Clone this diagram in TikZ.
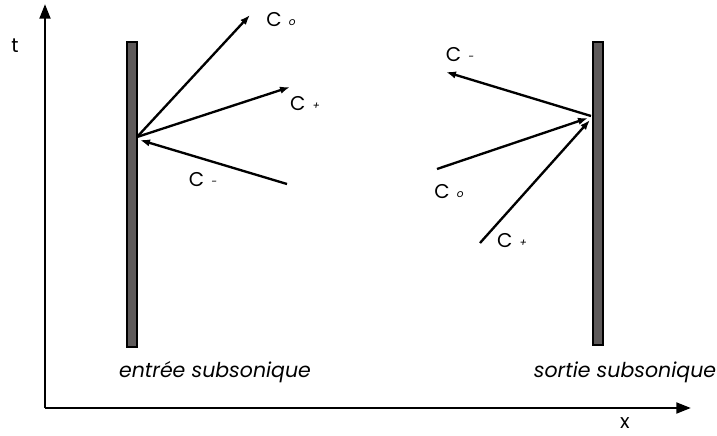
\documentclass[tikz,border=0pt]{standalone}
\usepackage{fontspec}
\setmainfont{Poppins}
\usetikzlibrary{arrows.meta,positioning}
\definecolor{Wall}{HTML}{5E5A5A}
\tikzset{
  axis/.style={-{Triangle[length=4.4mm,width=3.2mm]}, line width=2.4pt},
  wave/.style={-{Latex[length=3mm,width=2.2mm]}, line width=2pt},
  wall/.style={draw=black, fill=Wall, line width=1.1pt, minimum width=3mm,
    inner sep=0pt},
  lab/.style={font=\fontsize{17}{19}\selectfont, inner sep=1pt},
  caption/.style={font=\fontsize{17.5}{20}\selectfont\itshape, inner sep=0pt}
}
\newcommand{\wlab}[1]{C\hspace{0.35em}{\fontsize{9}{10}\selectfont\itshape\raisebox{0.25ex}{#1}}}
\begin{document}
\begin{tikzpicture}[x=0.3mm,y=-0.3mm]
  \useasboundingbox (0,0) rectangle (717,436);
  % axes
  \coordinate (origin) at (45,408);
  \coordinate (tend) at (45,4);
  \coordinate (xend) at (691,408);
  \draw[axis] (origin) -- (tend);
  \draw[axis] (origin.center) -- (xend);
  \node[lab] (tlab) at (15,46) {t};
  \node[lab] (xlab) at (625,423) {x};
  % entree
  \node[wall, minimum height=305*0.3mm] (inlet) at (132,194.5) {};
  \coordinate (inhit) at (137,137);
  \coordinate (inzero) at (250,15);
  \coordinate (inplus) at (290,87);
  \coordinate (inminus) at (287,184);
  \coordinate (inback) at (140,140);
  \draw[wave] (inhit) -- (inzero);
  \draw[wave] (inhit) -- (inplus);
  \draw[wave] (inminus) -- (inback);
  \node[lab] (inzerolab) at (281,20) {\wlab{o}};
  \node[lab] (inpluslab) at (305,104) {\wlab{+}};
  \node[lab] (inminuslab) at (203,180) {\wlab{-}};
  \node[caption] (incap) at (215,372) {entrée subsonique};
  % sortie
  \node[wall, minimum height=303*0.3mm] (outlet) at (598,193.5) {};
  \coordinate (outhit) at (591,116);
  \coordinate (outminus) at (446,72);
  \coordinate (outzero) at (437,169);
  \coordinate (outplus) at (480,243);
  \coordinate (outzerohit) at (588,118);
  \coordinate (outplushit) at (590,120);
  \draw[wave] (outhit) -- (outminus);
  \draw[wave] (outzero) -- (outzerohit);
  \draw[wave] (outplus) -- (outplushit);
  \node[lab] (outminuslab) at (460,55) {\wlab{-}};
  \node[lab] (outzerolab) at (449,192) {\wlab{o}};
  \node[lab] (outpluslab) at (512,241) {\wlab{+}};
  \node[caption] (outcap) at (625,372) {sortie subsonique};
\end{tikzpicture}
\end{document}
